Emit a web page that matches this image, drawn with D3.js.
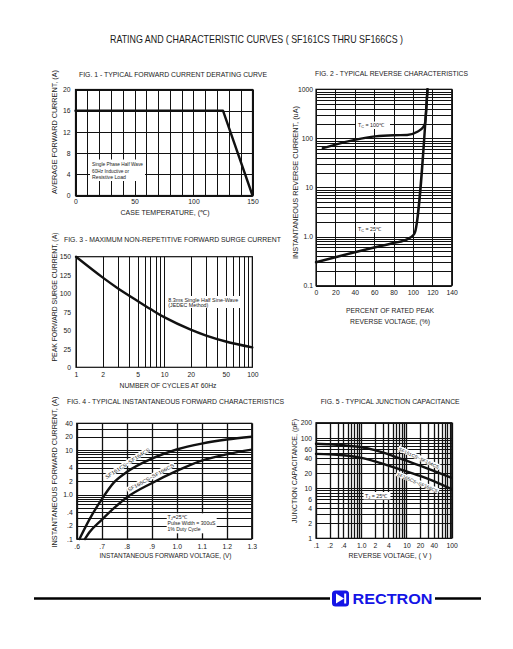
<!DOCTYPE html>
<html><head><meta charset="utf-8">
<script src="https://cdn.jsdelivr.net/npm/d3@7"></script>
<style>
body{margin:0;background:#fff}
svg{display:block}
text{font-family:"Liberation Sans",Arial,sans-serif;fill:#1a1a1a}
</style>
</head><body>
<svg id="c" width="513" height="649"></svg>
<script>
// ---------------- DATA ----------------
const mainTitle = "RATING AND CHARACTERISTIC CURVES ( SF161CS THRU SF166CS )";

// Fig 1
const fig1Temp = [0, 125, 150];
const fig1Current = [16, 16, 0];
const fig1XTicks = [0, 50, 100, 150];
const fig1YTicks = [0, 4, 8, 12, 16, 20];

// Fig 2
const fig2Pct25 = [0, 20, 40, 60, 80, 95, 100, 102, 115];
const fig2Cur25 = [0.3, 0.38, 0.48, 0.6, 0.74, 0.9, 1.05, 1.2, 1000];
const fig2Pct100 = [7, 20, 40, 61, 80, 94, 104, 110.8, 112.4, 115];
const fig2Cur100 = [63, 75, 93, 110, 116, 117, 135, 172, 200, 1000];
const fig2XTicks = [0, 20, 40, 60, 80, 100, 120, 140];
const fig2YTicks = [0.1, 1, 10, 100, 1000];
const fig2YLabels = ["0.1", "1.0", "10", "100", "1000"];

// Fig 3
const fig3Cycles = [1, 2, 3, 5, 7, 10, 20, 30, 50, 100];
const fig3Surge = [150, 122, 107, 90, 79, 68, 51, 43, 35, 27];
const fig3XTicks = [1, 2, 5, 10, 20, 50, 100];
const fig3YTicks = [0, 25, 50, 75, 100, 125, 150];

// Fig 4
const fig4V1 = [0.611, 0.65, 0.7, 0.75, 0.8, 0.9, 1.0, 1.1, 1.2, 1.3];
const fig4I1 = [0.1, 0.27, 0.78, 1.9, 3.2, 6.4, 10.3, 14, 17.3, 20];
const fig4V2 = [0.633, 0.65, 0.7, 0.75, 0.8, 0.9, 1.0, 1.1, 1.2, 1.3];
const fig4I2 = [0.1, 0.14, 0.27, 0.5, 0.86, 1.8, 3.4, 5.8, 8, 10.2];
const fig4XTicks = [0.6, 0.7, 0.8, 0.9, 1.0, 1.1, 1.2, 1.3];
const fig4XLabels = [".6", ".7", ".8", ".9", "1.0", "1.1", "1.2", "1.3"];
const fig4YTicks = [0.1, 0.2, 0.4, 1, 2, 4, 10, 20, 40];
const fig4YLabels = [".1", ".2", ".4", "1.0", "2", "4", "10", "20", "40"];

// Fig 5
const fig5V = [0.1, 0.2, 0.4, 1, 2, 4, 10, 20, 40, 100];
const fig5C1 = [76, 74, 71, 65, 57, 47, 35, 28, 22, 16];
const fig5C2 = [48, 47, 45, 40, 34, 28, 21.5, 17.5, 13.8, 9.5];
const fig5XTicks = [0.1, 0.2, 0.4, 1, 2, 4, 10, 20, 40, 100];
const fig5XLabels = [".1", ".2", ".4", "1.0", "2", "4", "10", "20", "40", "100"];
const fig5YTicks = [1, 2, 4, 6, 10, 20, 40, 60, 100, 200];

// ---------------- DRAW ----------------
const svg = d3.select("#c");
const INK = "#111";

function logGrid(min, max) {
  const v = [];
  for (let e = Math.floor(Math.log10(min)); e <= Math.ceil(Math.log10(max)); e++)
    for (let k = 1; k < 10; k++) {
      const val = k * Math.pow(10, e);
      if (val >= min * 0.9999 && val <= max * 1.0001) v.push(val);
    }
  return v;
}

function txt(x, y, s, fs, opts = {}) {
  const t = svg.append("text").attr("x", x).attr("y", y).attr("font-size", fs).text(s);
  if (opts.anchor) t.attr("text-anchor", opts.anchor);
  if (opts.len) t.attr("textLength", opts.len).attr("lengthAdjust", "spacingAndGlyphs");
  if (opts.rot !== undefined) t.attr("transform", `rotate(${opts.rot},${x},${y})`);
  if (opts.weight) t.attr("font-weight", opts.weight);
  if (opts.fill) t.style("fill", opts.fill);
  return t;
}

function panel(p) {
  const g = svg.append("g");
  g.selectAll(".vg").data(p.xGrid).join("line")
    .attr("x1", d => Math.round(p.x(d)) + 0.5).attr("x2", d => Math.round(p.x(d)) + 0.5)
    .attr("y1", p.y.range()[0]).attr("y2", p.y.range()[1])
    .attr("stroke", INK).attr("stroke-width", p.vgw || 1);
  g.selectAll(".hg").data(p.yGrid).join("line")
    .attr("y1", d => Math.round(p.y(d)) + 0.5).attr("y2", d => Math.round(p.y(d)) + 0.5)
    .attr("x1", p.x.range()[0]).attr("x2", p.x.range()[1])
    .attr("stroke", INK).attr("stroke-width", p.hgw || 1);
  const [xa, xb] = p.x.range(), [yb, ya] = p.y.range();
  g.append("rect").attr("x", xa).attr("y", ya).attr("width", xb - xa).attr("height", yb - ya)
    .attr("fill", "none").attr("stroke", INK).attr("stroke-width", 1.2);
  const fs = 6.8;
  const ax = g.append("g").attr("transform", `translate(0,${yb})`)
    .call(d3.axisBottom(p.x).tickValues(p.xTicks).tickSize(0).tickPadding(p.xPad)
      .tickFormat((d, i) => p.xLabels ? p.xLabels[i] : d));
  ax.select(".domain").remove();
  ax.selectAll("text").attr("font-size", fs).attr("font-family", "Liberation Sans, Arial, sans-serif").style("fill", "#1a1a1a");
  const ay = g.append("g").attr("transform", `translate(${xa},0)`)
    .call(d3.axisLeft(p.y).tickValues(p.yTicks).tickSize(0).tickPadding(p.yPad)
      .tickFormat((d, i) => p.yLabels ? p.yLabels[i] : d));
  ay.select(".domain").remove();
  ay.selectAll("text").attr("font-size", fs).attr("font-family", "Liberation Sans, Arial, sans-serif").style("fill", "#1a1a1a");
  return g;
}

function curve(xs, ys, x, y, curveType) {
  const pts = xs.map((d, i) => [x(d), y(ys[i])]);
  svg.append("path").attr("d", d3.line().curve(curveType || d3.curveMonotoneX)(pts))
    .attr("fill", "none").attr("stroke", INK).attr("stroke-width", 2.4)
    .attr("stroke-linejoin", "round").attr("stroke-linecap", "round");
}

function labelBox(x, y, w, h) {
  svg.append("rect").attr("x", x).attr("y", y).attr("width", w).attr("height", h).attr("fill", "#fff");
}

txt(256.5, 43, mainTitle, 10.5, { anchor: "middle", len: 293 });

// ---------- Fig 1 ----------
{
  const x = d3.scaleLinear().domain([0, 150]).range([75.5, 252.5]);
  const y = d3.scaleLinear().domain([0, 20]).range([195.5, 89.5]);
  panel({ x, y, xGrid: d3.range(0, 151, 10), yGrid: d3.range(0, 21, 4),
    xTicks: fig1XTicks, yTicks: fig1YTicks, xPad: 4, yPad: 5 });
  curve(fig1Temp, fig1Current, x, y, d3.curveLinear);
  labelBox(90, 159.5, 55, 21.5);
  txt(92, 166, "Single Phase Half Wave", 5.2, { len: 51 });
  txt(92, 172.7, "60Hz Inductive or", 5.2, { len: 37 });
  txt(92, 179.3, "Resistive Load", 5.2, { len: 34 });
  txt(79, 76.5, "FIG. 1 - TYPICAL FORWARD CURRENT DERATING CURVE", 6.5, { len: 188 });
  txt(165, 215, "CASE TEMPERATURE, (\u2103)", 6.8, { anchor: "middle", len: 89 });
  txt(57, 132, "AVERAGE FORWARD CURRENT, (A)", 6.8, { anchor: "middle", rot: -90, len: 124 });
}

// ---------- Fig 2 ----------
{
  const x = d3.scaleLinear().domain([0, 140]).range([316, 451.7]);
  const y = d3.scaleLog().domain([0.1, 1000]).range([285.7, 89.3]);
  panel({ x, y, xGrid: d3.range(0, 141, 20), yGrid: logGrid(0.1, 1000),
    xTicks: fig2XTicks, yTicks: fig2YTicks, yLabels: fig2YLabels, xPad: 4.5, yPad: 3 });
  curve(fig2Pct25, fig2Cur25, x, y);
  curve(fig2Pct100, fig2Cur100, x, y);
  labelBox(356, 121.5, 34, 7.5);
  const t1 = txt(358, 127.3, "T", 5.3);
  t1.append("tspan").attr("font-size", 3.8).attr("dy", 1).text("C");
  t1.append("tspan").attr("dy", -1).text(" = 100\u2103");
  labelBox(356, 225, 30, 7.5);
  const t2 = txt(358, 230.8, "T", 5.3);
  t2.append("tspan").attr("font-size", 3.8).attr("dy", 1).text("C");
  t2.append("tspan").attr("dy", -1).text(" = 25\u2103");
  txt(315, 76, "FIG. 2 - TYPICAL REVERSE CHARACTERISTICS", 6.5, { len: 153 });
  txt(390, 312.5, "PERCENT OF RATED PEAK", 6.8, { anchor: "middle", len: 88 });
  txt(390, 323.5, "REVERSE VOLTAGE, (%)", 6.8, { anchor: "middle", len: 80 });
  txt(297.5, 182.5, "INSTANTANEOUS REVERSE CURRENT, (uA)", 6.8, { anchor: "middle", rot: -90, len: 153 });
}

// ---------- Fig 3 ----------
{
  const x = d3.scaleLog().domain([1, 100]).range([76, 252.3]);
  const y = d3.scaleLinear().domain([0, 150]).range([367.3, 256.7]);
  panel({ x, y, xGrid: logGrid(1, 100), yGrid: [],
    xTicks: fig3XTicks, yTicks: fig3YTicks, xPad: 5, yPad: 5 });
  curve(fig3Cycles, fig3Surge, x, y, d3.curveCatmullRom);
  labelBox(167, 296, 73, 12);
  txt(168.3, 301.5, "8.3ms Single Half Sine-Wave", 5.2, { len: 70 });
  txt(168.3, 307.3, "(JEDEC Method)", 5.2, { len: 40 });
  txt(64, 242, "FIG. 3 - MAXIMUM NON-REPETITIVE FORWARD SURGE CURRENT", 6.5, { len: 217 });
  txt(168, 387.5, "NUMBER OF CYCLES AT 60Hz", 6.8, { anchor: "middle", len: 97 });
  txt(57, 297, "PEAK FORWARD SURGE CURRENT, (A)", 6.8, { anchor: "middle", rot: -90, len: 129 });
}

// ---------- Fig 4 ----------
{
  const x = d3.scaleLinear().domain([0.6, 1.3]).range([76.7, 251.7]);
  const y = d3.scaleLog().domain([0.1, 40]).range([539, 423.3]);
  panel({ x, y, xGrid: d3.range(0, 8).map(i => 0.6 + i * 0.1), yGrid: logGrid(0.1, 40),
    xTicks: fig4XTicks, xLabels: fig4XLabels, yTicks: fig4YTicks, yLabels: fig4YLabels,
    xPad: 5, yPad: 4, vgw: 1.3 });
  curve(fig4V1, fig4I1, x, y);
  curve(fig4V2, fig4I2, x, y);
  [[127.5, 463.3, -33, "SF161CS~SF164CS"], [150.8, 477.5, -29, "SF165CS~SF166CS"]].forEach(([cx, cy, a, s]) => {
    const g = svg.append("g").attr("transform", `translate(${cx},${cy}) rotate(${a})`);
    g.append("rect").attr("x", -27).attr("y", -3.2).attr("width", 54).attr("height", 5.6).attr("fill", "#fff");
    g.append("text").attr("x", 0).attr("y", 1.8).attr("text-anchor", "middle").attr("font-size", 5)
      .attr("textLength", 52).attr("lengthAdjust", "spacingAndGlyphs").text(s);
  });
  labelBox(166.7, 513.3, 50, 20);
  const t = txt(167.5, 518.8, "T", 5.3);
  t.append("tspan").attr("font-size", 3.8).attr("dy", 1).text("J");
  t.append("tspan").attr("dy", -1).text("=25\u2103");
  txt(167.5, 525, "Pulse Width = 300uS", 5.2, { len: 48 });
  txt(167.5, 531.3, "1% Duty Cycle", 5.2, { len: 33 });
  txt(67, 404, "FIG. 4 - TYPICAL INSTANTANEOUS FORWARD CHARACTERISTICS", 6.5, { len: 217 });
  txt(165.5, 557.5, "INSTANTANEOUS FORWARD VOLTAGE, (V)", 6.8, { anchor: "middle", len: 132 });
  txt(57, 472, "INSTANTANEOUS FORWARD CURRENT, (A)", 6.8, { anchor: "middle", rot: -90, len: 151 });
}

// ---------- Fig 5 ----------
{
  const x = d3.scaleLog().domain([0.1, 100]).range([316, 451.7]);
  const y = d3.scaleLog().domain([1, 200]).range([538.3, 422.7]);
  panel({ x, y, xGrid: logGrid(0.1, 100), yGrid: logGrid(1, 200),
    xTicks: fig5XTicks, xLabels: fig5XLabels, yTicks: fig5YTicks, xPad: 5, yPad: 4, vgw: 1.3 });
  curve(fig5V, fig5C1, x, y);
  curve(fig5V, fig5C2, x, y);
  [[419, 458, 25, "SF161CS~SF164CS"], [417.5, 482.5, 23, "SF165CS~SF166CS"]].forEach(([cx, cy, a, s]) => {
    const g = svg.append("g").attr("transform", `translate(${cx},${cy}) rotate(${a})`);
    g.append("rect").attr("x", -23).attr("y", -3).attr("width", 46).attr("height", 5.4).attr("fill", "#fff");
    g.append("text").attr("x", 0).attr("y", 1.8).attr("text-anchor", "middle").attr("font-size", 4.6)
      .attr("textLength", 44).attr("lengthAdjust", "spacingAndGlyphs").text(s);
  });
  labelBox(363.5, 492, 27, 7.5);
  const t = txt(365, 497.8, "T", 5.3);
  t.append("tspan").attr("font-size", 3.8).attr("dy", 1).text("J");
  t.append("tspan").attr("dy", -1).text(" = 25\u2103");
  txt(320.7, 404, "FIG. 5 - TYPICAL JUNCTION CAPACITANCE", 6.5, { len: 139 });
  txt(390, 558, "REVERSE VOLTAGE, ( V )", 6.8, { anchor: "middle", len: 83 });
  txt(296.5, 471, "JUNCTION CAPACITANCE, (pF)", 6.8, { anchor: "middle", rot: -90, len: 104 });
}

// ---------- Footer ----------
{
  const BLUE = "#1414e6";
  svg.append("line").attr("x1", 34).attr("x2", 330).attr("y1", 598.5).attr("y2", 598.5)
    .attr("stroke", "#000").attr("stroke-width", 2.5);
  svg.append("line").attr("x1", 435).attr("x2", 481).attr("y1", 598.5).attr("y2", 598.5)
    .attr("stroke", "#000").attr("stroke-width", 2.5);
  svg.append("rect").attr("x", 332).attr("y", 590.5).attr("width", 17).attr("height", 16).attr("rx", 3.5).attr("fill", BLUE);
  svg.append("path").attr("d", "M336,593.5 L344,598.5 L336,603.5 Z").attr("fill", "#fff");
  svg.append("rect").attr("x", 344.2).attr("y", 593.5).attr("width", 2).attr("height", 10).attr("fill", "#fff");
  txt(352.5, 604, "RECTRON", 15.5, { weight: "bold", len: 80, fill: BLUE });
}
</script>
</body></html>
